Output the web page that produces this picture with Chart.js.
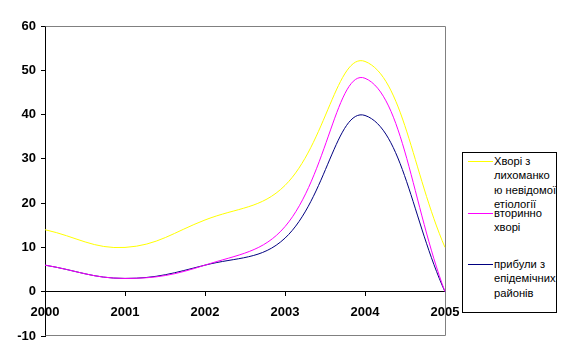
<!DOCTYPE html>
<html>
<head>
<meta charset="utf-8">
<script src="https://cdn.jsdelivr.net/npm/chart.js@4"></script>
<style>
  body { margin: 0; background: #fff; }
  #wrap { position: relative; width: 565px; height: 353px; }
  #legend {
    position: absolute; left: 462px; top: 152px; width: 93px; height: 159px;
    border: 1px solid #000; overflow: hidden; background: #fff;
    font: 11.2px "Liberation Sans", Arial, sans-serif; color: #000;
  }
  .item { position: absolute; left: 0; }
  .swatch { position: absolute; left: 5px; top: 7px; width: 25px; height: 1px; }
  .text { position: absolute; left: 31px; top: 0; white-space: pre; line-height: 14.3px; }
</style>
</head>
<body>
<div id="wrap">
  <canvas id="myChart"></canvas>
  <div id="legend"></div>
</div>
<script>
  const years = ['2000', '2001', '2002', '2003', '2004', '2005'];
  const unknownFever = [14, 10, 16.2, 24, 52, 10];
  const secondary = [6, 3, 6, 14.7, 48.2, 0];
  const arrived = [6, 3, 6, 12.1, 39.8, 0];
  const yTicks = [-10, 0, 10, 20, 30, 40, 50, 60];
  const seriesNames = [
    ['Хворі з', 'лихоманко', 'ю невідомої', 'етіології'],
    ['вторинно', 'хворі'],
    ['прибули з', 'епідемічних', 'районів']
  ];
  const seriesColors = ['#ffff00', '#ff00ff', '#000080'];

  const tickFont = { family: '"Liberation Sans", Arial, sans-serif', size: 13, weight: 'bold' };

  // gray frame on top / right / bottom of the plot area
  const plotFrame = {
    id: 'plotFrame',
    beforeDatasetsDraw(chart) {
      const { ctx, chartArea: a } = chart;
      const l = Math.round(a.left) + 0.5, r = Math.round(a.right) + 0.5;
      const t = Math.round(a.top) + 0.5, b = Math.round(a.bottom) - 0.5;
      ctx.save();
      ctx.strokeStyle = '#808080';
      ctx.lineWidth = 1;
      ctx.beginPath();
      ctx.moveTo(l, t);
      ctx.lineTo(r, t);
      ctx.lineTo(r, b);
      ctx.lineTo(l, b);
      ctx.stroke();
      ctx.restore();
    }
  };

  const values = [unknownFever, secondary, arrived];

  const ctx = document.getElementById('myChart');
  const myChart = new Chart(ctx, {
    type: 'line',
    data: {
      labels: years,
      datasets: values.map((v, i) => ({
        label: seriesNames[i].join(' '),
        data: v,
        borderColor: seriesColors[i],
        backgroundColor: seriesColors[i],
        borderWidth: 1,
        pointRadius: 0,
        tension: 0.4,
        fill: false
      }))
    },
    options: {
      responsive: true,
      maintainAspectRatio: false,
      animation: false,
      layout: { padding: { left: 0, top: 26, right: 120, bottom: 17 } },
      plugins: {
        legend: { display: false },
        tooltip: { enabled: false }
      },
      scales: {
        x: {
          type: 'category',
          offset: false,
          position: { y: 0 },
          grid: { drawOnChartArea: false, offset: false, color: '#000', tickLength: 4 },
          border: { color: '#000' },
          ticks: { color: '#000', font: tickFont, padding: 9, maxRotation: 0, autoSkip: false }
        },
        y: {
          min: -10,
          max: 60,
          afterFit(scale) { scale.width = 45; },
          afterBuildTicks(scale) { scale.ticks = yTicks.map(v => ({ value: v })); },
          grid: { drawOnChartArea: false, color: '#000', tickLength: 4 },
          border: { color: '#000' },
          ticks: { color: '#000', font: tickFont, padding: 5 }
        }
      }
    },
    plugins: [plotFrame]
  });

  // legend with the same wrapped lines as the original
  const legend = document.getElementById('legend');
  seriesNames.forEach((lines, i) => {
    const item = document.createElement('div');
    item.className = 'item';
    item.style.top = (1 + i * 51.5) + 'px';
    const sw = document.createElement('div');
    sw.className = 'swatch';
    sw.style.background = seriesColors[i];
    const tx = document.createElement('div');
    tx.className = 'text';
    tx.textContent = lines.join('\n');
    item.appendChild(sw);
    item.appendChild(tx);
    legend.appendChild(item);
  });
</script>
</body>
</html>
